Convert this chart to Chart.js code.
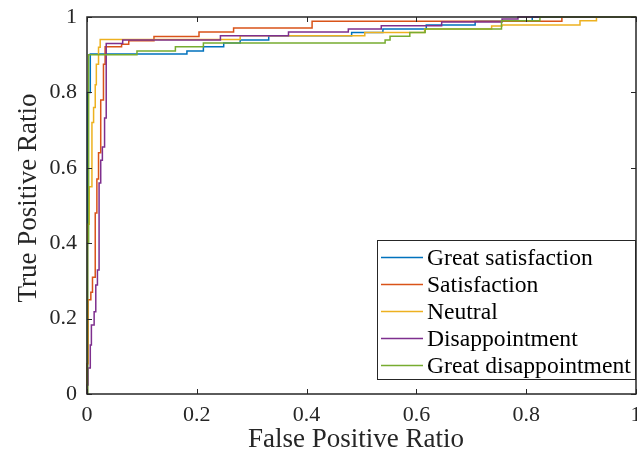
<!DOCTYPE html>
<html>
<head>
<meta charset="utf-8">
<title>ROC</title>
<script src="https://cdn.jsdelivr.net/npm/chart.js@4.4.1/dist/chart.umd.min.js"></script>
<style>
    html, body { margin: 0; padding: 0; background: #fff; }
    #wrap { width: 637px; height: 465px; }
</style>
</head>
<body>
<div id="wrap"><canvas id="roc" width="637" height="465"></canvas></div>
<script>
// valores (FPR / TPR en cada escalon)
const seriesNames = ['Great satisfaction', 'Satisfaction', 'Neutral', 'Disappointment', 'Great disappointment'];
const seriesColors = ['#0072BD', '#D95319', '#EDB120', '#7E2F8E', '#77AC30'];

const fprGreatSat = [0, 0.001, 0.006, 0.182, 0.212, 0.249, 0.279, 0.331, 0.482, 0.539, 0.618, 0.707, 0.811, 1];
const tprGreatSat = [0, 0.80, 0.902, 0.910, 0.921, 0.931, 0.939, 0.950, 0.959, 0.968, 0.979, 0.989, 1, 1];

const fprSat = [0, 0, 0.002, 0.007, 0.010, 0.015, 0.018, 0.021, 0.025, 0.030, 0.033, 0.063, 0.076, 0.122, 0.204, 0.267, 0.410, 0.865, 1];
const tprSat = [0, 0.08, 0.25, 0.27, 0.31, 0.48, 0.57, 0.64, 0.78, 0.875, 0.921, 0.928, 0.937, 0.948, 0.960, 0.971, 0.989, 1, 1];

const fprNeutral = [0, 0.001, 0.004, 0.009, 0.012, 0.015, 0.017, 0.021, 0.024, 0.279, 0.506, 0.615, 0.737, 0.756, 0.898, 0.928, 1];
const tprNeutral = [0, 0.45, 0.55, 0.72, 0.76, 0.82, 0.875, 0.92, 0.940, 0.950, 0.959, 0.968, 0.976, 0.979, 0.990, 1, 1];

const fprDisap = [0, 0, 0.002, 0.006, 0.008, 0.013, 0.016, 0.019, 0.022, 0.025, 0.028, 0.032, 0.035, 0.065, 0.243, 0.367, 0.476, 0.536, 0.646, 0.756, 0.785, 1];
const tprDisap = [0, 0.024, 0.069, 0.130, 0.183, 0.218, 0.289, 0.329, 0.56, 0.62, 0.655, 0.732, 0.930, 0.939, 0.950, 0.960, 0.968, 0.977, 0.987, 0.995, 1, 1];

const fprGreatDisap = [0, 0.001, 0.003, 0.091, 0.161, 0.212, 0.543, 0.552, 0.588, 0.616, 0.755, 0.825, 1];
const tprGreatDisap = [0, 0.40, 0.900, 0.910, 0.921, 0.931, 0.939, 0.949, 0.959, 0.968, 0.990, 1, 1];

const tickValues = [0, 0.2, 0.4, 0.6, 0.8, 1];
const xTitle = 'False Positive Ratio';
const yTitle = 'True Positive Ratio';

const FONT = '"Liberation Serif", "Times New Roman", serif';
const AXIS_COLOR = '#262626';

function toPoints(fpr, tpr) {
    return fpr.map((x, i) => ({ x: x, y: tpr[i] }));
}

function fmtTick(v) {
    return String(+v.toFixed(1));
}

// marco, marcas hacia dentro, titulos y leyenda al estilo MATLAB
const matlabAxes = {
    id: 'matlabAxes',
    beforeDraw(chart) {
        const ctx = chart.ctx;
        ctx.save();
        ctx.fillStyle = '#fff';
        ctx.fillRect(0, 0, chart.width, chart.height);
        ctx.restore();
    },
    afterDatasetsDraw(chart) {
        const ctx = chart.ctx;
        const a = chart.chartArea;
        const xs = chart.scales.x, ys = chart.scales.y;
        ctx.save();
        ctx.strokeStyle = AXIS_COLOR;
        ctx.lineWidth = 1.5;
        ctx.strokeRect(a.left, a.top, a.right - a.left, a.bottom - a.top);
        ctx.lineWidth = 1;
        const len = 5;
        ctx.beginPath();
        tickValues.forEach(v => {
            const px = Math.round(xs.getPixelForValue(v)) + 0.5;
            ctx.moveTo(px, a.bottom); ctx.lineTo(px, a.bottom - len);
            ctx.moveTo(px, a.top); ctx.lineTo(px, a.top + len);
            const py = Math.round(ys.getPixelForValue(v)) + 0.5;
            ctx.moveTo(a.left, py); ctx.lineTo(a.left + len, py);
            ctx.moveTo(a.right, py); ctx.lineTo(a.right - len, py);
        });
        ctx.stroke();

        // titulos de ejes
        ctx.fillStyle = AXIS_COLOR;
        ctx.font = '27px ' + FONT;
        ctx.textAlign = 'center';
        ctx.textBaseline = 'middle';
        ctx.fillText(xTitle, 356, 440);
        ctx.translate(29, 198);
        ctx.rotate(-Math.PI / 2);
        ctx.fillText(yTitle, 0, 0);
        ctx.restore();

        drawLegend(chart);
    }
};

function drawLegend(chart) {
    const ctx = chart.ctx;
    const a = chart.chartArea;
    const box = { left: 377, top: 240, right: a.right, bottom: 380 };
    const rowH = 27;
    ctx.save();
    ctx.fillStyle = '#fff';
    ctx.fillRect(box.left, box.top, box.right - box.left, box.bottom - box.top);
    ctx.strokeStyle = AXIS_COLOR;
    ctx.lineWidth = 1;
    ctx.strokeRect(box.left + 0.5, box.top + 0.5, box.right - box.left - 1, box.bottom - box.top - 1);
    ctx.font = '23.6px ' + FONT;
    ctx.textAlign = 'left';
    ctx.textBaseline = 'middle';
    seriesNames.forEach((name, i) => {
        const cy = box.top + 17.5 + i * rowH;
        ctx.strokeStyle = seriesColors[i];
        ctx.lineWidth = 1.5;
        ctx.beginPath();
        ctx.moveTo(box.left + 4, cy);
        ctx.lineTo(box.left + 46, cy);
        ctx.stroke();
        ctx.fillStyle = '#000';
        ctx.fillText(name, box.left + 50, cy + 1);
    });
    ctx.restore();
}

const curves = [
    toPoints(fprGreatSat, tprGreatSat),
    toPoints(fprSat, tprSat),
    toPoints(fprNeutral, tprNeutral),
    toPoints(fprDisap, tprDisap),
    toPoints(fprGreatDisap, tprGreatDisap)
];

const axisTicks = {
    color: AXIS_COLOR,
    font: { family: FONT, size: 22 },
    stepSize: 0.2,
    callback: v => fmtTick(v)
};

new Chart(document.getElementById('roc'), {
    type: 'scatter',
    data: {
        datasets: curves.map((pts, i) => ({
            label: seriesNames[i],
            data: pts,
            showLine: true,
            stepped: 'before',
            borderColor: seriesColors[i],
            borderWidth: 1.5,
            pointRadius: 0,
            fill: false,
            clip: 2,
            order: curves.length - i   // el ultimo se pinta encima, como en MATLAB
        }))
    },
    options: {
        responsive: false,
        animation: false,
        devicePixelRatio: 1,
        layout: { autoPadding: false, padding: { top: 17, right: 1, left: 0, bottom: 0 } },
        plugins: { legend: { display: false }, tooltip: { enabled: false } },
        scales: {
            x: {
                type: 'linear', min: 0, max: 1,
                grid: { display: false, drawTicks: false }, border: { display: false },
                ticks: Object.assign({ padding: 8 }, axisTicks),
                afterFit: s => { s.height = 71; s.paddingLeft = 0; s.paddingRight = 0; }
            },
            y: {
                type: 'linear', min: 0, max: 1,
                grid: { display: false, drawTicks: false }, border: { display: false },
                ticks: Object.assign({ padding: 10 }, axisTicks),
                afterFit: s => { s.width = 87; s.paddingTop = 0; s.paddingBottom = 0; }
            }
        }
    },
    plugins: [matlabAxes]
});
</script>
</body>
</html>
